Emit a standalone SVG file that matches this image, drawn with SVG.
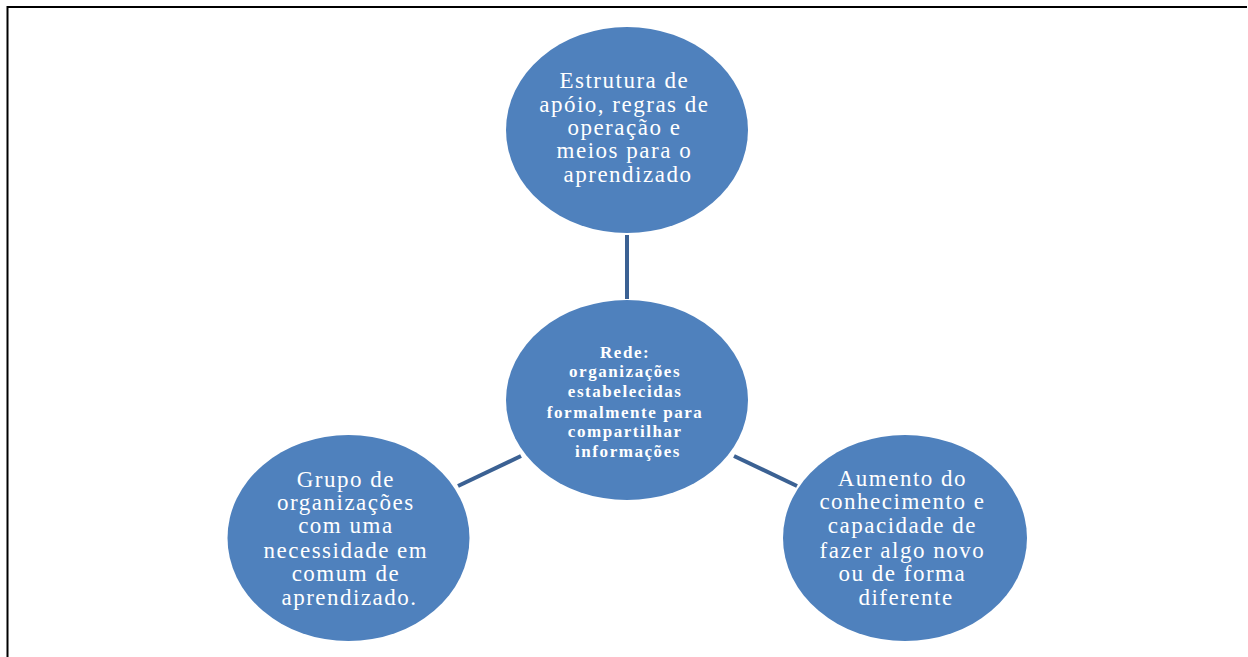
<svg xmlns="http://www.w3.org/2000/svg" width="1248" height="657" viewBox="0 0 1248 657">
  <style>
    .node { fill: #4F81BD; }
    .lbl { font-family: "Liberation Serif", "Times New Roman", serif; fill: #FFFFFF; text-anchor: middle; font-size: 23px; letter-spacing: 1.5px; }
    .hub { font-family: "Liberation Serif", "Times New Roman", serif; fill: #FFFFFF; text-anchor: middle; font-size: 17px; font-weight: bold; letter-spacing: 1.55px; }
    .edge { stroke: #3B6193; stroke-width: 4; fill: none; }
  </style>
  <rect width="1248" height="657" fill="#FFFFFF"/>
  <!-- page frame: top, left and right edges -->
  <path d="M7.5 657 V7 H1247" fill="none" stroke="#000000" stroke-width="2"/>

  <g id="connectors">
    <line class="edge" x1="627" y1="235" x2="627" y2="299"/>
    <line class="edge" x1="458" y1="486" x2="521" y2="456"/>
    <line class="edge" x1="734" y1="456" x2="797" y2="486"/>
  </g>

  <g id="node-top">
    <ellipse class="node" cx="627" cy="130" rx="121" ry="103"/>
    <text class="lbl">
      <tspan x="628" y="88">Estrutura de</tspan>
      <tspan x="628" y="112">apóio, regras de</tspan>
      <tspan x="628" y="135">operação e</tspan>
      <tspan x="628" y="158">meios para o</tspan>
      <tspan x="628" y="182">aprendizado</tspan>
    </text>
  </g>

  <g id="node-center">
    <ellipse class="node" cx="627" cy="400" rx="121" ry="100"/>
    <text class="hub">
      <tspan x="628" y="358">Rede:</tspan>
      <tspan x="628" y="377">organizações</tspan>
      <tspan x="628" y="397">estabelecidas</tspan>
      <tspan x="628" y="418">formalmente para</tspan>
      <tspan x="628" y="437">compartilhar</tspan>
      <tspan x="628" y="457">informações</tspan>
    </text>
  </g>

  <g id="node-left">
    <ellipse class="node" cx="348.5" cy="538" rx="121" ry="103"/>
    <text class="lbl">
      <tspan x="349.5" y="487">Grupo de</tspan>
      <tspan x="349.5" y="510">organizações</tspan>
      <tspan x="349.5" y="533">com uma</tspan>
      <tspan x="349.5" y="558">necessidade em</tspan>
      <tspan x="349.5" y="581">comum de</tspan>
      <tspan x="349.5" y="605">aprendizado.</tspan>
    </text>
  </g>

  <g id="node-right">
    <ellipse class="node" cx="905" cy="538" rx="122" ry="103"/>
    <text class="lbl">
      <tspan x="906" y="486">Aumento do</tspan>
      <tspan x="906" y="509">conhecimento e</tspan>
      <tspan x="906" y="533">capacidade de</tspan>
      <tspan x="906" y="558">fazer algo novo</tspan>
      <tspan x="906" y="581">ou de forma</tspan>
      <tspan x="906" y="605">diferente</tspan>
    </text>
  </g>
</svg>
